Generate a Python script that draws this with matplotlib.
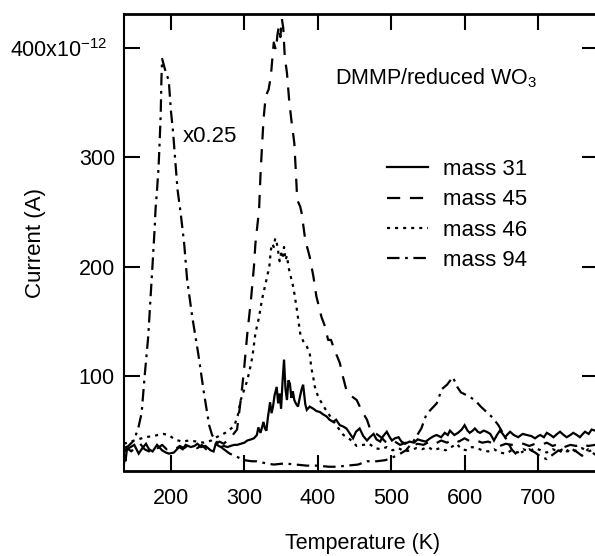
import matplotlib
matplotlib.use('Agg')
import matplotlib.pyplot as plt

plt.rcParams['font.family'] = ['Liberation Sans', 'DejaVu Sans']
plt.rcParams['mathtext.fontset'] = 'custom'
plt.rcParams['mathtext.rm'] = 'Liberation Sans'
plt.rcParams['mathtext.it'] = 'Liberation Sans'
plt.rcParams['lines.scale_dashes'] = False

# ---------------- data ----------------
m31_T = [136, 137, 138, 140, 145, 150, 156, 161, 166, 170, 175, 181, 188, 193, 197, 204, 211, 216,
         220, 227, 232, 236, 241, 247, 254, 258, 261, 265, 268, 272, 277, 281, 286, 290, 295, 300,
         304, 309, 313, 317, 319, 322, 326, 328, 330, 332, 335, 337, 339, 341, 344, 346, 348, 350,
         352, 354, 356, 358, 360, 362, 364, 366, 368, 370, 373, 376, 378, 380, 383, 385, 389, 394,
         398, 403, 407, 412, 416, 421, 425, 430, 434, 439, 443, 448, 452, 457, 462, 467, 471, 476,
         480, 485, 489, 494, 498, 501, 505, 510, 514, 519, 525, 531, 536, 541, 547, 553, 558, 562,
         568, 573, 577, 580, 586, 591, 596, 600, 604, 607, 611, 614, 618, 621, 626, 630, 635, 640,
         644, 648, 652, 655, 659, 662, 667, 673, 679, 685, 691, 696, 700, 703, 708, 712, 717, 721,
         726, 730, 735, 739, 744, 748, 753, 757, 761, 764, 769, 773, 778]
m31_I = [20, 28, 22, 33, 35, 37, 29, 34, 38, 33, 31, 37, 32, 30, 29, 30, 35, 33,
         37, 35, 36, 38, 35, 36, 32, 31, 38, 36, 35, 36, 35, 36, 37, 37, 38, 39,
         41, 42, 43, 46, 53, 48, 58, 52, 50, 62, 76, 66, 72, 82, 90, 75, 84, 70,
         95, 115, 88, 78, 96, 93, 80, 86, 78, 75, 72, 82, 88, 92, 74, 69, 72, 70,
         68, 67, 65, 63, 60, 58, 60, 55, 54, 52, 48, 43, 49, 52, 45, 41, 44, 47,
         42, 40, 45, 49, 44, 41, 43, 44, 40, 38, 40, 39, 42, 41, 40, 43, 45, 46,
         44, 48, 46, 50, 46, 48, 51, 55, 50, 48, 50, 52, 49, 48, 50, 49, 47, 41,
         46, 50, 47, 44, 47, 49, 46, 44, 47, 46, 45, 43, 45, 46, 44, 48, 46, 44,
         47, 49, 46, 44, 46, 48, 46, 44, 47, 49, 47, 51, 50]

m45_T = [136, 140, 146, 152, 158, 164, 170, 176, 182, 188, 194, 200, 206, 212, 218, 224, 230, 236,
         242, 248, 254, 260, 266, 272, 278, 284, 290, 295, 299, 304, 309, 313, 315, 320, 322, 324,
         326, 329, 333, 336, 340, 343, 345, 347, 349, 351, 353, 355, 358, 361, 364, 368, 370, 372,
         376, 378, 383, 389, 394, 398, 405, 410, 414, 418, 422, 430, 434, 439, 445, 453, 460, 467,
         472, 480, 486, 492, 498, 505, 512, 520, 528, 536, 544, 552, 560, 568, 576, 584, 592, 600,
         608, 616, 624, 632, 640, 648, 656, 664, 672, 680, 688, 696, 704, 712, 720, 728, 736, 744,
         752, 760, 768, 778]
m45_I = [30, 34, 31, 36, 38, 33, 31, 36, 34, 37, 33, 34, 33, 36, 34, 37, 35, 34,
         37, 33, 35, 37, 40, 38, 42, 46, 51, 78, 102, 139, 170, 200, 221, 252, 285, 310,
         334, 356, 362, 374, 405, 398, 412, 420, 410, 427, 418, 392, 377, 352, 334, 313, 288, 261,
         255, 249, 224, 209, 191, 173, 154, 145, 133, 133, 125, 112, 100, 87, 82, 78, 68, 60,
         50, 47, 44, 40, 38, 40, 37, 39, 36, 38, 37, 40, 38, 41, 39, 42, 40, 43,
         40, 41, 39, 40, 38, 36, 38, 37, 39, 38, 36, 38, 37, 39, 36, 38, 35, 37,
         36, 38, 36, 37]

m46_T = [136, 145, 155, 165, 175, 182, 190, 197, 205, 215, 225, 235, 245, 255, 262, 268, 274, 280,
         286, 291, 295, 300, 304, 308, 311, 315, 320, 324, 329, 334, 336, 338, 340, 342, 344, 346,
         348, 350, 352, 354, 356, 358, 360, 362, 365, 367, 371, 376, 380, 385, 389, 391, 394, 396,
         400, 403, 410, 417, 425, 435, 444, 453, 462, 470, 478, 486, 494, 502, 510, 518, 526, 534,
         542, 550, 558, 566, 574, 582, 589, 596, 603, 610, 617, 624, 632, 640, 648, 656, 664, 672,
         680, 688, 696, 704, 712, 720, 728, 736, 744, 752, 760, 768, 778]
m46_I = [38, 40, 42, 44, 45, 46, 47, 46, 42, 40, 41, 40, 39, 41, 44, 46, 48, 51,
         54, 64, 78, 88, 96, 108, 118, 139, 154, 170, 185, 200, 215, 221, 218, 226, 222, 214,
         205, 212, 208, 218, 206, 210, 200, 194, 186, 180, 163, 139, 132, 127, 121, 108, 98, 90,
         82, 78, 70, 63, 55, 46, 42, 36, 37, 38, 34, 33, 35, 32, 34, 31, 32, 34,
         33, 35, 32, 34, 32, 35, 38, 33, 32, 35, 34, 32, 31, 33, 30, 29, 32, 30,
         33, 31, 34, 32, 30, 33, 31, 34, 30, 32, 34, 31, 33]

m94_T = [136, 142, 148, 152, 155, 160, 164, 169, 172, 175, 178, 179, 181, 183, 184, 186, 187, 188,
         190, 192, 195, 197, 200, 203, 205, 209, 213, 218, 222, 229, 237, 245, 252, 256, 262, 270,
         280, 290, 300, 310, 317, 330, 340, 355, 370, 385, 400, 415, 426, 440, 455, 467, 480, 492,
         500, 510, 520, 530, 541, 548, 555, 562, 569, 576, 584, 590, 595, 604, 614, 622, 630, 638,
         646, 652, 657, 664, 671, 680, 688, 696, 704, 712, 720, 728, 736, 744, 752, 760, 768, 778]
m94_I = [34, 36, 40, 46, 51, 66, 99, 136, 170, 203, 238, 253, 270, 290, 305, 339, 372, 390,
         385, 380, 374, 370, 342, 322, 304, 270, 250, 221, 188, 154, 121, 84, 55, 46, 40, 34,
         29, 26, 23, 22, 22, 20, 19, 20, 19, 18, 18, 17, 17, 18, 19, 22, 22, 23,
         25, 28, 32, 40, 52, 65, 70, 75, 88, 92, 99, 90, 85, 82, 78, 72, 67, 62,
         55, 48, 42, 33, 28, 31, 33, 30, 26, 24, 28, 32, 29, 34, 31, 27, 33, 28]

series_labels = ['mass 31', 'mass 45', 'mass 46', 'mass 94']
x_ticks = [200, 300, 400, 500, 600, 700]
y_ticks = [100, 200, 300, 400]
y_tick_labels = ['100', '200', '300', '']

# ---------------- figure ----------------
W, H = 595, 556
fig = plt.figure(figsize=(W / 100, H / 100), dpi=100)
L, R, T, B = 124, 598, 14, 471
ax = fig.add_axes([L / W, 1 - B / H, (R - L) / W, (B - T) / H])

lw = 1.6
ax.plot(m31_T, m31_I, color='black', lw=lw, solid_joinstyle='miter', label=series_labels[0])
ax.plot(m45_T, m45_I, color='black', lw=lw, dashes=(9.5, 7), label=series_labels[1])
ax.plot(m46_T, m46_I, color='black', lw=lw, dashes=(2.2, 3.6), label=series_labels[2])
ax.plot(m94_T, m94_I, color='black', lw=lw, dashes=(9, 4, 2, 4), label=series_labels[3])

ax.set_xlim(136, 781.7)
ax.set_ylim(13.1, 431.1)
ax.set_xticks(x_ticks)
ax.set_yticks(y_ticks)
ax.set_yticklabels(y_tick_labels)

for name, s in ax.spines.items():
    s.set_linewidth(2.0 if name in ('top', 'bottom') else 1.5)

ax.tick_params(which='major', direction='in', length=11.5, width=1.5,
               top=True, right=True, labelsize=15.5)
ax.tick_params(axis='x', pad=12)
ax.tick_params(axis='y', pad=6.5)

# labels
fig.text(35 / W, 1 - 243 / H, 'Current (A)', rotation=90, ha='center', va='center', fontsize=16)
fig.text(363 / W, 1 - 543 / H, 'Temperature (K)', ha='center', va='center', fontsize=15.5)
fig.text(108 / W, 1 - 57 / H, r'400x10$^{\mathregular{-12}}$', ha='right', va='baseline', fontsize=15.5)

fig.text(335 / W, 1 - 84 / H, r'DMMP/reduced WO$_{\mathregular{3}}$', ha='left', va='baseline', fontsize=15.5)
fig.text(183 / W, 1 - 141.7 / H, 'x0.25', ha='left', va='baseline', fontsize=16)

leg = ax.legend(loc='upper left', bbox_to_anchor=(387 / W, 1 - 159 / H),
                bbox_transform=fig.transFigure, frameon=False, fontsize=16,
                handlelength=1.85, handletextpad=0.68, labelspacing=0.42,
                borderpad=0, borderaxespad=0)

fig.savefig('out.png', dpi=100)
